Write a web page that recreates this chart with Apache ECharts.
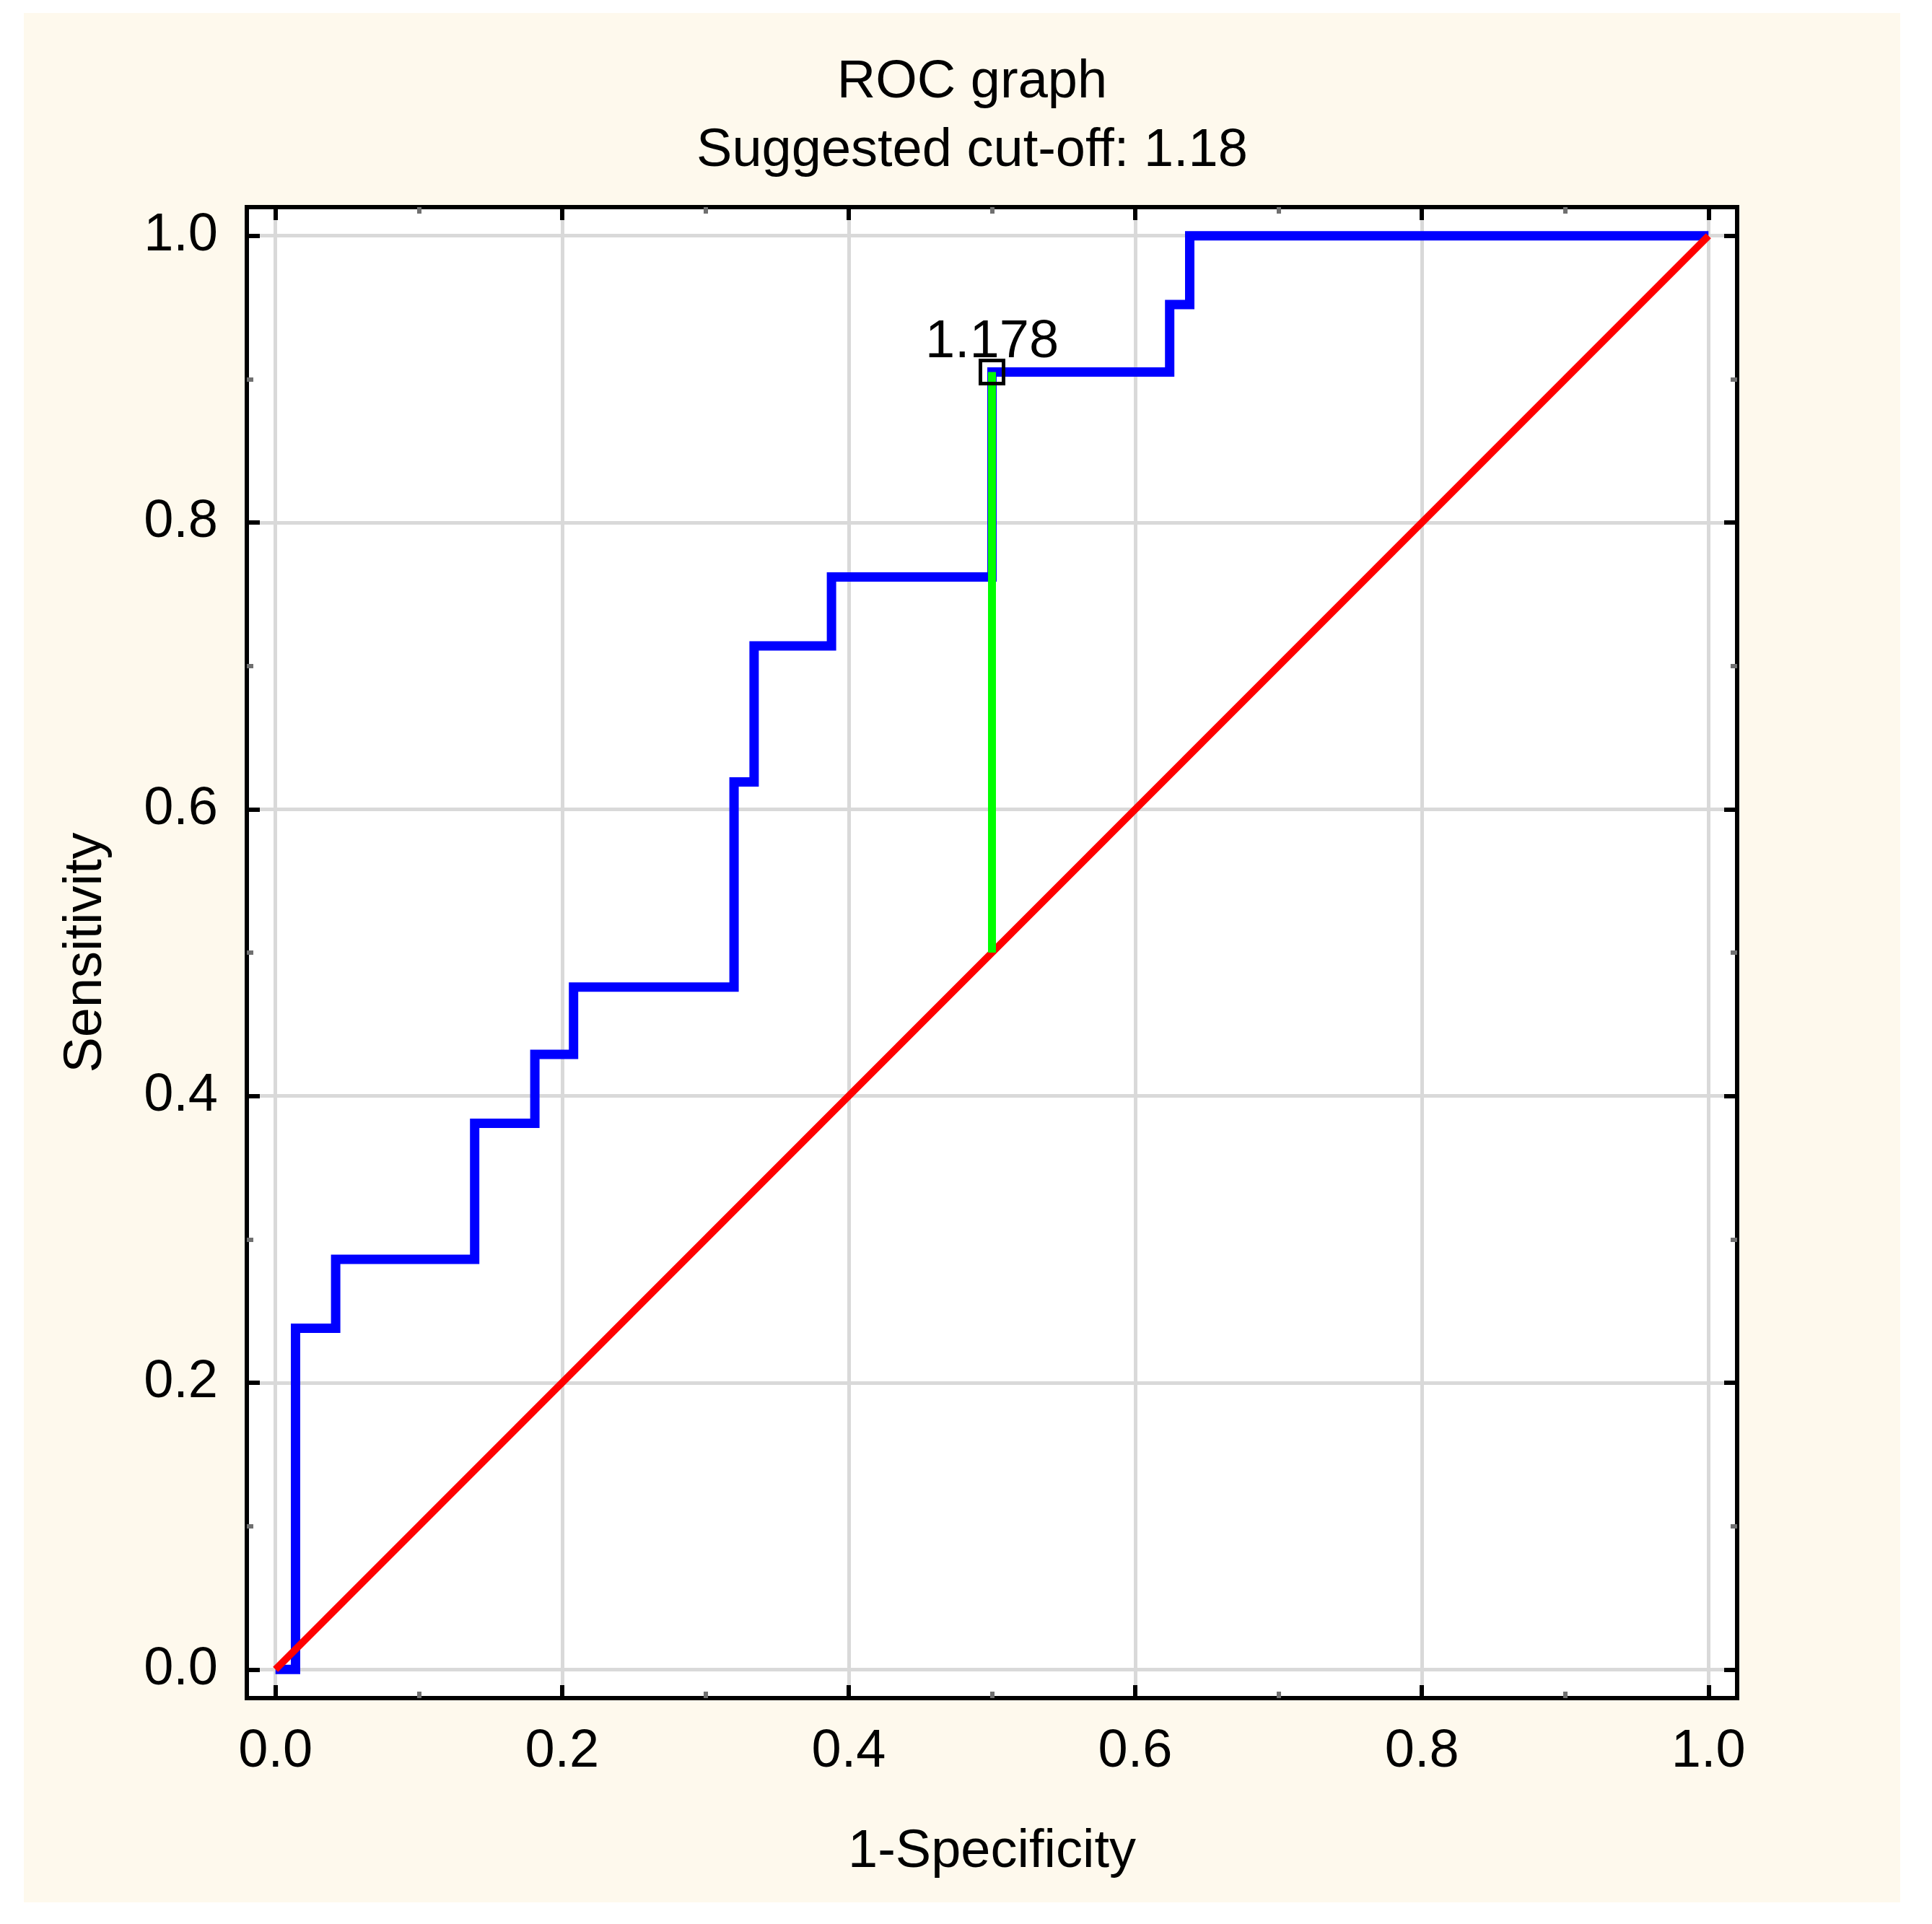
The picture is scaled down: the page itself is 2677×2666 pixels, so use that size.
<!DOCTYPE html>
<html>
<head>
<meta charset="utf-8">
<script src="https://cdn.jsdelivr.net/npm/echarts@6/dist/echarts.min.js"></script>
<style>
  html, body { margin: 0; padding: 0; background: #ffffff; }
  #chart { position: absolute; left: 33px; top: 18px; width: 2600px; height: 2618px; }
</style>
</head>
<body>
<div id="chart"></div>
<script>
// ROC curve corner points (1-specificity, sensitivity)
const rocFpr = [0, 0.014, 0.042, 0.139, 0.181, 0.208, 0.320, 0.334, 0.388, 0.500, 0.624, 0.638, 1.0];
const rocTpr = [0, 0.238, 0.286, 0.381, 0.429, 0.476, 0.619, 0.714, 0.762, 0.905, 0.952, 1.0, 1.0];

// reference diagonal
const diagX = [0, 1];
const diagY = [0, 1];

// suggested cut-off
const cutX = 0.5;
const cutY = 0.905;
const cutLabel = "1.178";

const majorTicks = [0, 0.2, 0.4, 0.6, 0.8, 1.0];
const minorTicks = [0.1, 0.3, 0.5, 0.7, 0.9];

const FONT = "'Liberation Sans', Arial, sans-serif";
const FS = 74;

const rocData = rocFpr.map((x, i) => [x, rocTpr[i]]);
const diagData = diagX.map((x, i) => [x, diagY[i]]);

function makeAxis(position, kind) {
  const base = {
    type: "value",
    position: position,
    min: -0.02,
    max: 1.02,
    axisLine: { show: false, onZero: false },
    splitLine: { show: false },
    axisLabel: { show: false },
    axisTick: { show: false },
  };
  if (kind === "main") {
    base.axisTick = {
      show: true, inside: true, length: 18, customValues: majorTicks,
      lineStyle: { color: "#000", width: 6 },
    };
    base.axisLabel = {
      show: true, customValues: majorTicks, color: "#000",
      fontFamily: FONT, fontSize: FS,
      margin: (position === "bottom") ? 38 : 40,
      formatter: (v) => v.toFixed(1),
    };
    base.splitLine = { show: true, lineStyle: { color: "#d9d9d9", width: 5 } };
  } else if (kind === "major") {
    base.axisTick = {
      show: true, inside: true, length: 18, customValues: majorTicks,
      lineStyle: { color: "#000", width: 6 },
    };
  } else {
    base.axisTick = {
      show: true, inside: true, length: 9, customValues: minorTicks,
      lineStyle: { color: "#707070", width: 6 },
    };
  }
  return base;
}

const xMain = makeAxis("bottom", "main");
xMain.name = "1-Specificity";
xMain.nameLocation = "middle";
xMain.nameGap = 177;
xMain.nameTextStyle = { color: "#000", fontFamily: FONT, fontSize: FS };

const yMain = makeAxis("left", "main");
yMain.name = "Sensitivity";
yMain.nameLocation = "middle";
yMain.nameGap = 185;
yMain.nameTextStyle = { color: "#000", fontFamily: FONT, fontSize: FS };

const chart = echarts.init(document.getElementById("chart"));

const option = {
  animation: false,
  backgroundColor: "#fef9ed",
  title: {
    text: "ROC graph\nSuggested cut-off: 1.18",
    left: 1309,
    top: 44,
    textAlign: "center",
    textStyle: {
      color: "#000", fontFamily: FONT, fontSize: FS,
      fontWeight: "normal", lineHeight: 95,
    },
  },
  grid: {
    left: 309, top: 269, width: 2065, height: 2066,
    show: true, backgroundColor: "#ffffff",
    borderColor: "#000", borderWidth: 6,
  },
  xAxis: [
    xMain,
    makeAxis("top", "major"),
    makeAxis("bottom", "minor"),
    makeAxis("top", "minor"),
  ],
  yAxis: [
    yMain,
    makeAxis("right", "major"),
    makeAxis("left", "minor"),
    makeAxis("right", "minor"),
  ],
  series: [
    {
      type: "line",
      data: rocData,
      step: "end",
      showSymbol: false,
      lineStyle: { color: "#0000ff", width: 13, cap: "butt", join: "miter" },
      z: 2,
    },
    {
      type: "line",
      data: diagData,
      showSymbol: false,
      lineStyle: { color: "#ff0000", width: 10, cap: "butt" },
      z: 3,
    },
    {
      type: "line",
      data: [[cutX, cutX], [cutX, cutY]],
      showSymbol: false,
      lineStyle: { color: "#00ff00", width: 11, cap: "butt" },
      z: 4,
    },
    {
      type: "scatter",
      data: [[cutX, cutY]],
      symbol: "rect",
      symbolSize: 32,
      itemStyle: { color: "rgba(0,0,0,0)", borderColor: "#000", borderWidth: 5, opacity: 1 },
      label: {
        show: true, position: "top", distance: -15,
        formatter: cutLabel, color: "#000",
        fontFamily: FONT, fontSize: FS,
      },
      z: 5,
    },
  ],
};

chart.setOption(option);
</script>
</body>
</html>
